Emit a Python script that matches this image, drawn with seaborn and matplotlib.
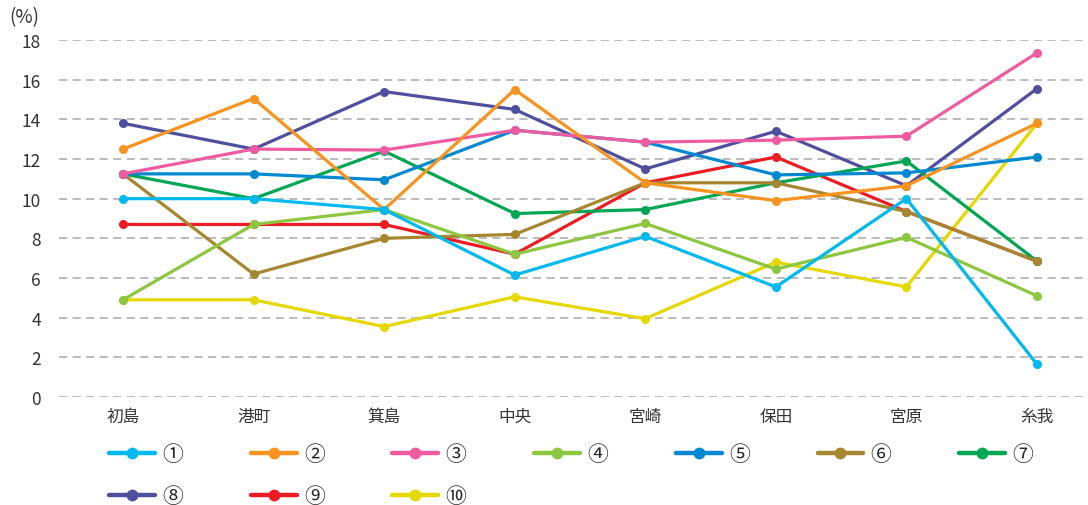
import numpy as np
import pandas as pd
import matplotlib
matplotlib.use("Agg")
import matplotlib.pyplot as plt
import seaborn as sns

categories = ["初島", "港町", "箕島", "中央", "宮崎", "保田", "宮原", "糸我"]
series_names = ["①", "②", "③", "④", "⑤", "⑥", "⑦", "⑧", "⑨", "⑩"]

s1 = [10.0, 10.0, 9.45, 6.15, 8.1, 5.55, 10.0, 1.65]
s2 = [12.5, 15.05, 9.45, 15.5, 10.8, 9.9, 10.65, 13.8]
s3 = [11.25, 12.5, 12.45, 13.45, 12.85, 12.95, 13.15, 17.35]
s4 = [4.9, 8.7, 9.45, 7.2, 8.75, 6.45, 8.05, 5.1]
s5 = [11.25, 11.25, 10.95, 13.45, 12.85, 11.2, 11.3, 12.1]
s6 = [11.25, 6.2, 8.0, 8.2, 10.8, 10.8, 9.35, 6.85]
s7 = [11.25, 10.0, 12.4, 9.25, 9.45, 10.8, 11.9, 6.85]
s8 = [13.8, 12.5, 15.4, 14.5, 11.5, 13.4, 10.65, 15.55]
s9 = [8.7, 8.7, 8.7, 7.2, 10.8, 12.1, 9.35, 6.85]
s10 = [4.9, 4.9, 3.55, 5.05, 3.95, 6.8, 5.55, 13.8]

colors = ["#00b9ef", "#f7931e", "#ef5ba1", "#8dc63f", "#0088d1",
          "#a6862e", "#00a651", "#4f4fa0", "#ed1c24", "#e5d800"]

all_series = [s1, s2, s3, s4, s5, s6, s7, s8, s9, s10]
rows = []
for name, vals in zip(series_names, all_series):
    for c, v in zip(categories, vals):
        rows.append({"地区": c, "値": v, "系列": name})
df = pd.DataFrame(rows)

sns.set_style("white")
plt.rcParams["font.family"] = ["Noto Sans CJK JP", "DejaVu Sans"]

fig = plt.figure(figsize=(10.88, 5.06), dpi=100)
ax = fig.add_axes([59/1088, 1 - 398/506, (1084-59)/1088, (398-41)/506])

sns.lineplot(data=df, x="地区", y="値", hue="系列", hue_order=series_names,
             palette=colors, marker="o", markersize=6.5, markeredgewidth=0,
             linewidth=2.3, sort=False, ax=ax, legend="auto")

for i, ln in enumerate(ax.lines[:len(series_names)]):
    ln.set_zorder(20 - i)

ax.set_xlim(-0.49, len(categories) - 1 + 0.36)
ax.set_ylim(0, 18)
ax.set_yticks(np.arange(0, 19, 2))
for y in np.arange(0, 19, 2):
    ax.axhline(y, color="#b5b5b5", linewidth=1.3, linestyle=(0, (4.5, 3)), zorder=0)
for sp in ax.spines.values():
    sp.set_visible(False)
ax.tick_params(axis="both", length=0, labelsize=12.5, colors="#333333")
ax.tick_params(axis="x", pad=8, labelsize=12)
ax.tick_params(axis="y", pad=13)
ax.set_xlabel("")
ax.set_ylabel("")
fig.text(9/1088, 1 - 18/506, "(%)", fontsize=13.5, color="#333333", va="center", ha="left")

handles, labels = ax.get_legend_handles_labels()
ax.get_legend().remove()
order = [0, 7, 1, 8, 2, 9, 3, 4, 5, 6]
h2 = [handles[i] for i in order]
l2 = [labels[i] for i in order]
for h in h2:
    h.set_linewidth(3.2)
    h.set_markersize(8.5)
fig.legend(h2, l2, ncol=7, loc="upper left", bbox_to_anchor=(109/1088, 1 - 444/506),
           frameon=False, fontsize=15, handlelength=2.2, handletextpad=0.35,
           columnspacing=3.25, labelspacing=0.95, borderpad=0, borderaxespad=0)

fig.savefig("out.png", dpi=100)
